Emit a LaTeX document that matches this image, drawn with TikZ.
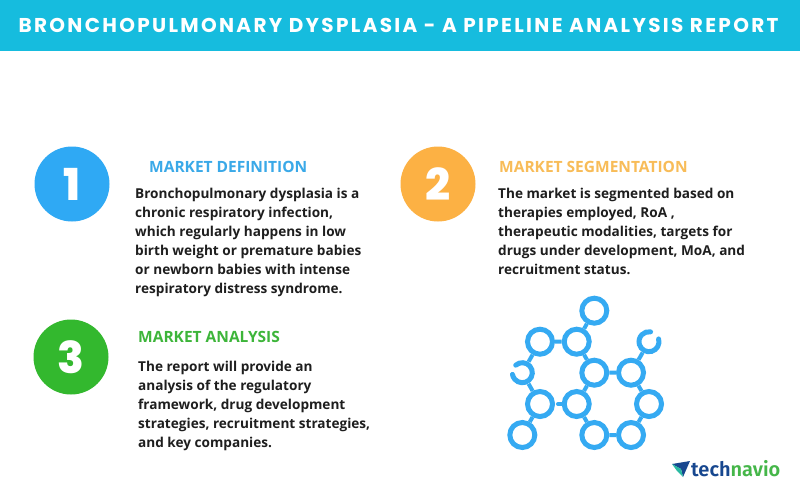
\documentclass[tikz,border=0pt]{standalone}
\usepackage{fontspec}
\setmainfont{Open Sans}[BoldFont={Open Sans Bold}]
\newfontfamily\titlefont[LetterSpace=11.6]{Poppins Bold}
\newfontfamily\numfont{Poppins ExtraBold}
\newfontfamily\logofont{Fira Sans SemiBold}
\definecolor{barc}{HTML}{16BCDE}
\definecolor{blueC}{HTML}{2FA9F4}
\definecolor{blueH}{HTML}{3AA9E8}
\definecolor{orangeC}{HTML}{FCB144}
\definecolor{orangeH}{HTML}{F8BC58}
\definecolor{greenC}{HTML}{33B82E}
\definecolor{greenH}{HTML}{3DB53A}
\definecolor{molC}{HTML}{35AAF2}
\definecolor{bodyC}{HTML}{1E1E1E}
\definecolor{navyC}{HTML}{17478F}
\definecolor{logoG}{HTML}{45B649}
\tikzset{
  x=1pt,y=-1pt,
  numdisc/.style={circle,minimum size=75pt,inner sep=0pt,text=white,font=\numfont\fontsize{44}{44}\selectfont},
  headtxt/.style={anchor=base west,inner sep=0pt,font=\bfseries\fontsize{15.5}{15.5}\selectfont},
  bodytxt/.style={anchor=north west,inner sep=0pt,align=left,text=bodyC,font=\bfseries\fontsize{13.6}{19}\selectfont},
  ring/.style={circle,draw=molC,line width=5pt,minimum size=25pt,inner sep=0pt},
  openring/.style={circle,minimum size=25pt,inner sep=0pt},
  bondl/.style={draw=molC,line width=4pt},
  arcl/.style={draw=molC,line width=5pt,line cap=round},
}
\begin{document}
\begin{tikzpicture}
\useasboundingbox (0,0) rectangle (800,485);
\fill[white] (0,0) rectangle (800,485);
\node[fill=barc,minimum width=800pt,minimum height=50.5pt,inner sep=0pt,anchor=north west,outer sep=0pt] (bar) at (0,0) {};
\node[anchor=base,inner sep=0pt,text=white,font=\titlefont\fontsize{20}{20}\selectfont] (title) at (398.5,32.5) {BRONCHOPULMONARY DYSPLASIA - A PIPELINE ANALYSIS REPORT};

\node[numdisc,fill=blueC] (n1) at (72,184) {1};
\node[numdisc,fill=orangeC] (n2) at (438,184) {2};
\node[numdisc,fill=greenC] (n3) at (71,357) {3};

\node[headtxt,text=blueH] (h1) at (149,172.5) {MARKET DEFINITION};
\node[headtxt,text=orangeH] (h2) at (499,172.5) {MARKET SEGMENTATION};
\node[headtxt,text=greenH] (h3) at (138,342.5) {MARKET ANALYSIS};

\node[bodytxt] (b1) at (135,187.5) {Bronchopulmonary dysplasia is a\\chronic respiratory infection,\\which regularly happens in low\\birth weight or premature babies\\or newborn babies with intense\\respiratory distress syndrome.};
\node[bodytxt] (b2) at (498,187.5) {The market is segmented based on\\therapies employed, RoA ,\\therapeutic modalities, targets for\\drugs under development, MoA, and\\recruitment status.};
\node[bodytxt] (b3) at (138,360.5) {The report will provide an\\analysis of the regulatory\\framework, drug development\\strategies, recruitment strategies,\\and key companies.};

\node[ring] (top) at (594.3,310.7) {};
\node[ring] (a2) at (576.7,341.7) {};
\node[ring] (a1) at (540,341.7) {};
\node[openring] (lo) at (522.3,372.7) {};
\node[ring] (c) at (594.3,372.7) {};
\node[ring] (r) at (631,372.7) {};
\node[openring] (ro) at (649,341.7) {};
\node[ring] (ml) at (540,404) {};
\node[ring] (m) at (576.7,404) {};
\node[ring] (mr) at (649,404) {};
\node[ring] (bl) at (522.3,435) {};
\node[ring] (b1r) at (594.3,435) {};
\node[ring] (b2r) at (631,435) {};
\coordinate (stub) at (558,404);
\draw[arcl] (lo.center) ++(131:10pt) arc[start angle=131,end angle=-170,radius=10pt];
\draw[arcl] (ro.center) ++(16:10pt) arc[start angle=16,end angle=-279,radius=10pt];
\draw[bondl] (top)--(a2) (a2)--(a1) (a1)--(lo) (lo)--(ml) (ml)--(bl);
\draw[bondl] (a2)--(c) (c)--(r) (r)--(ro) (r)--(mr) (mr)--(b2r) (b2r)--(b1r) (b1r)--(m) (m)--(c);
\draw[bondl,line cap=round] (m)--(stub);

\fill[navyC] (672,464) -- (690,461) -- (683,477) -- (681,469) -- cycle;
\fill[barc!60!logoG] (672,464) -- (681,469) -- (683,477) -- (677,471) -- cycle;
\node[anchor=base west,inner sep=0pt,font=\logofont\fontsize{20}{20}\selectfont] (logo) at (691,476) {\textcolor{navyC}{tech}\textcolor{logoG}{navio}};
\end{tikzpicture}
\end{document}
